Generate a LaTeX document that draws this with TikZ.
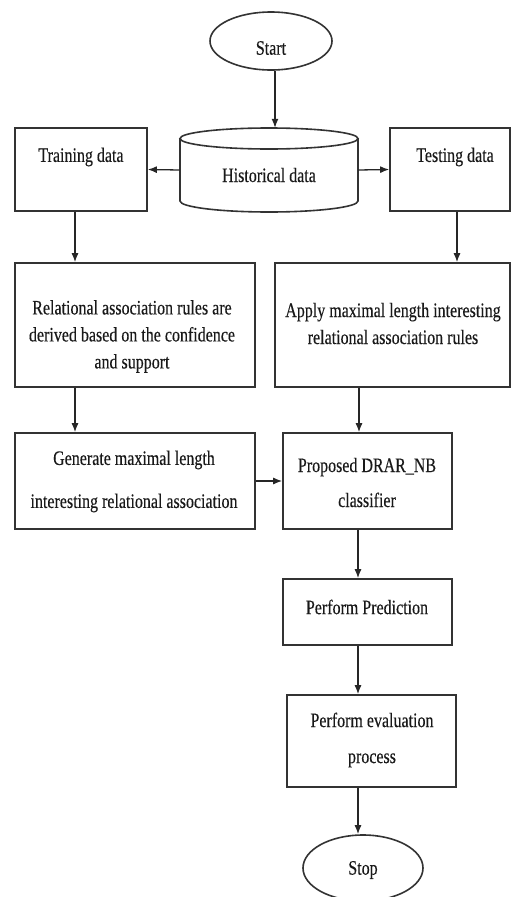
\documentclass[tikz,border=0pt]{standalone}
\usepackage{fontspec}
\setmainfont[FakeStretch=0.78,FakeBold=0.25]{Liberation Serif}
\usetikzlibrary{shapes.geometric,arrows.meta}
\begin{document}
\begin{tikzpicture}[x=1pt,y=-1pt,
  line/.style={line width=1.6pt,draw=black!80},
  box/.style={line,rectangle,inner sep=0pt},
  oval/.style={line,ellipse,inner sep=0pt},
  txt/.style={font=\fontsize{20.5}{27}\selectfont,align=center,inner sep=0pt,text=black!90},
  arr/.style={line width=1.3pt,draw=black!85,-{Latex[length=9pt,width=7pt]}}]
\useasboundingbox (0,0) rectangle (511,897);
% Start
\node[oval,minimum width=122pt,minimum height=58pt] (start) at (271,41) {};
\node[txt] (startt) at (271,48) {Start};
% Historical data (cylinder)
\node[minimum width=178pt,minimum height=84pt,inner sep=0pt] (hist) at (269,170) {};
\draw[line] (269,138.5) ellipse [x radius=89pt, y radius=10.5pt];
\draw[line] (180,138.5) -- (180,201) arc[start angle=180,end angle=360,x radius=89pt,y radius=11pt] -- (358,138.5);
\node[txt] (histt) at (269,175) {Historical data};
% Training / Testing
\node[box,minimum width=132pt,minimum height=83pt] (train) at (81,169.5) {};
\node[txt] (traint) at (81,157) {Training data};
\node[box,minimum width=120pt,minimum height=83pt] (test) at (450,169.5) {};
\node[txt] (testt) at (455,157) {Testing data};
% Relational / Apply
\node[box,minimum width=240pt,minimum height=124pt] (rel) at (135,325) {};
\node[txt] (relt) at (132,336.5) {Relational association rules are\\derived based on the confidence\\and support};
\node[box,minimum width=235pt,minimum height=124pt] (apply) at (392.5,325) {};
\node[txt] (applyt) at (393,323.5) {Apply maximal length interesting\\relational association rules};
% Generate / Proposed
\node[box,minimum width=240pt,minimum height=96pt] (gen) at (135,481) {};
\node[txt] (gent) at (134,481.5) {Generate maximal length\\[16pt]interesting relational association};
\node[box,minimum width=169pt,minimum height=96pt] (prop) at (367.5,481) {};
\node[txt] (propt) at (367,482.5) {Proposed DRAR\_NB\\[8pt]classifier};
% Prediction
\node[box,minimum width=169pt,minimum height=66pt] (pred) at (367.5,612) {};
\node[txt] (predt) at (367,607) {Perform Prediction};
% Evaluation
\node[box,minimum width=169pt,minimum height=92pt] (eval) at (371.5,741) {};
\node[txt] (evalt) at (372,740) {Perform evaluation\\[9pt]process};
% Stop
\node[oval,minimum width=120pt,minimum height=66pt] (stop) at (363,868) {};
\node[txt] (stopt) at (363,870) {Stop};
% connectors
\draw[arr] ([xshift=4pt]start.south) -- ([xshift=4pt]start.south |- hist.north);
\draw[arr] (hist.west) -- (train.east);
\draw[arr] (hist.east) -- (test.west);
\draw[arr] ([xshift=-6pt]train.south) -- ([xshift=-6pt]train.south |- rel.north);
\draw[arr] ([xshift=7pt]test.south) -- ([xshift=7pt]test.south |- apply.north);
\draw[arr] ([xshift=-60pt]rel.south) -- ([xshift=-60pt]rel.south |- gen.north);
\draw[arr] ([xshift=-33.5pt]apply.south) -- ([xshift=-33.5pt]apply.south |- prop.north);
\draw[arr] (gen.east) -- (gen.east -| prop.west);
\draw[arr] ([xshift=-9.5pt]prop.south) -- ([xshift=-9.5pt]prop.south |- pred.north);
\draw[arr] ([xshift=-9.5pt]pred.south) -- ([xshift=-9.5pt]pred.south |- eval.north);
\draw[arr] ([xshift=-13.5pt]eval.south) -- ([xshift=-13.5pt]eval.south |- stop.north);
\end{tikzpicture}
\end{document}
